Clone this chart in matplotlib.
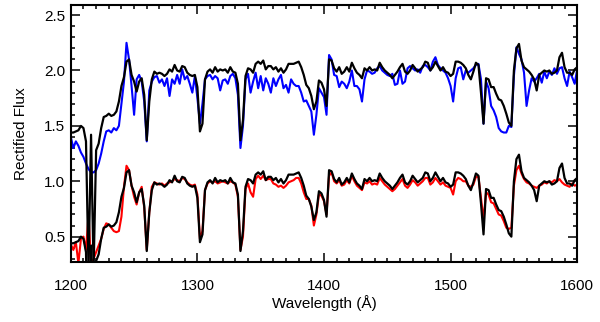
import numpy as np
import matplotlib
matplotlib.use("Agg")
import matplotlib.pyplot as plt
from matplotlib.ticker import MultipleLocator

plt.rcParams['font.family'] = ['Liberation Sans', 'DejaVu Sans']

# wavelength grid (Angstrom), 2 A sampling
wave = np.arange(1200, 1601, 2)

# observed spectrum (black), rectified
obs = [0.44, 0.44, 0.45, 0.46, 0.50, 0.48, 0.36, -0.80, 0.42, -0.80,
       0.28, 0.34, 0.48, 0.58, 0.59, 0.61, 0.59, 0.60, 0.63, 0.72,
       0.86, 0.94, 1.08, 1.10, 0.96, 0.90, 0.81, 0.90, 0.93, 0.78,
       0.37, 0.72, 0.92, 0.99, 0.97, 0.98, 0.97, 0.95, 0.97, 1.01,
       0.99, 1.05, 1.00, 0.99, 1.04, 1.03, 0.98, 0.96, 0.95, 0.96,
       0.85, 0.45, 0.52, 0.92, 0.99, 1.01, 0.98, 1.03, 0.99, 1.01,
       1.00, 1.01, 0.98, 1.03, 0.99, 0.98, 0.88, 0.37, 0.55, 0.95,
       1.02, 1.01, 0.98, 1.06, 1.08, 1.06, 1.09, 1.01, 1.04, 1.04,
       1.01, 1.03, 0.99, 1.02, 0.98, 1.01, 1.06, 1.06, 1.06, 1.07,
       1.08, 1.03, 0.96, 0.87, 0.84, 0.77, 0.65, 0.72, 0.91, 0.89,
       0.83, 0.68, 1.10, 1.09, 1.02, 0.99, 1.03, 0.97, 0.99, 1.03,
       0.99, 1.07, 1.02, 0.98, 0.96, 0.93, 1.02, 1.00, 1.03, 1.00,
       1.01, 1.00, 1.07, 1.03, 1.00, 0.98, 0.96, 0.93, 0.96, 0.99,
       1.03, 1.06, 0.99, 0.97, 1.00, 1.05, 1.02, 0.99, 1.01, 1.03,
       1.08, 1.07, 1.00, 1.03, 1.08, 1.04, 1.00, 1.03, 0.99, 0.98,
       0.95, 0.97, 1.08, 1.08, 1.07, 1.05, 1.02, 0.96, 0.92, 0.99,
       1.07, 1.05, 0.80, 0.52, 0.93, 0.92, 0.85, 0.85, 0.79, 0.74,
       0.73, 0.68, 0.61, 0.53, 0.50, 1.00, 1.20, 1.24, 1.09, 1.03,
       1.01, 0.99, 0.96, 0.92, 0.82, 0.96, 0.98, 1.00, 0.99, 1.00,
       0.97, 0.98, 1.00, 1.12, 1.16, 1.03, 0.98, 0.98, 0.96, 1.01,
       1.03]

# model 1 (red), lower pair
model_red = [0.43, 0.38, 0.45, 0.26, 0.48, 0.50, 0.38, 0.70, 0.26, 0.30,
             0.36, 0.42, 0.48, 0.57, 0.62, 0.61, 0.58, 0.55, 0.54, 0.55,
             0.68, 0.95, 1.14, 1.10, 0.96, 0.86, 0.79, 0.90, 0.95, 0.76,
             0.38, 0.72, 0.95, 0.99, 0.98, 0.97, 0.98, 0.96, 0.98, 0.99,
             1.00, 1.02, 1.01, 1.00, 1.03, 1.02, 0.99, 0.97, 0.96, 0.97,
             0.88, 0.48, 0.55, 0.92, 0.98, 1.00, 0.99, 1.00, 0.98, 0.99,
             1.00, 0.99, 0.98, 1.00, 0.99, 0.97, 0.86, 0.38, 0.50, 0.93,
             0.98, 0.90, 0.86, 1.02, 1.05, 1.02, 1.05, 1.01, 1.02, 1.02,
             0.98, 0.97, 0.95, 0.96, 0.94, 0.96, 0.99, 1.00, 1.01, 1.03,
             1.03, 0.98, 0.90, 0.84, 0.84, 0.78, 0.60, 0.70, 0.88, 0.87,
             0.82, 0.70, 1.05, 1.08, 1.00, 0.98, 1.01, 0.96, 0.97, 1.01,
             0.98, 1.05, 1.00, 0.96, 0.94, 0.92, 0.99, 0.98, 1.00, 0.97,
             0.98, 0.97, 1.03, 1.00, 0.97, 0.95, 0.93, 0.91, 0.93, 0.96,
             0.99, 1.02, 0.96, 0.94, 0.97, 1.01, 0.99, 0.96, 0.98, 1.00,
             1.03, 1.03, 0.97, 0.99, 1.03, 1.00, 0.97, 0.99, 0.96, 0.95,
             0.94, 0.88, 1.00, 1.03, 1.02, 1.00, 1.00, 0.96, 0.95, 0.97,
             1.04, 1.04, 0.85, 0.65, 0.90, 0.88, 0.81, 0.80, 0.75, 0.70,
             0.69, 0.64, 0.58, 0.57, 0.58, 0.96, 1.10, 1.14, 1.07, 1.02,
             0.99, 0.98, 0.96, 0.95, 0.94, 0.96, 0.97, 0.99, 0.98, 1.00,
             0.99, 1.01, 1.00, 1.02, 0.99, 0.97, 0.96, 0.95, 0.98, 0.96,
             0.97]

# model 2 (blue), upper pair
model_blue = [0.40, 0.30, 0.36, 0.32, 0.26, 0.22, 0.16, 0.11, 0.08, 0.08,
              0.10, 0.16, 0.25, 0.36, 0.45, 0.46, 0.44, 0.48, 0.46, 0.50,
              0.70, 0.90, 1.25, 1.10, 0.86, 0.60, 0.92, 0.96, 0.90, 0.72,
              0.36, 0.82, 0.90, 0.94, 0.95, 0.89, 0.92, 0.86, 0.93, 0.77,
              0.92, 0.88, 0.96, 0.88, 1.01, 0.92, 0.95, 0.88, 0.80, 0.95,
              0.75, 0.52, 0.70, 0.92, 0.95, 0.96, 0.92, 0.95, 0.93, 0.82,
              0.91, 0.92, 0.88, 0.95, 0.97, 0.93, 0.78, 0.30, 0.50, 0.92,
              0.97, 0.80, 0.90, 0.98, 0.84, 0.95, 0.82, 0.93, 0.88, 0.80,
              0.93, 0.86, 0.92, 0.96, 0.84, 0.87, 0.80, 0.92, 0.88, 0.86,
              0.86, 0.80, 0.72, 0.73, 0.68, 0.63, 0.42, 0.60, 0.84, 0.80,
              0.76, 0.60, 1.14, 1.10, 0.96, 0.95, 0.85, 0.90, 0.88, 0.84,
              0.90, 1.00, 0.86, 0.86, 0.83, 0.72, 0.92, 1.00, 0.99, 0.97,
              0.98, 1.02, 1.04, 1.00, 0.98, 0.96, 0.95, 0.97, 0.87, 0.88,
              1.00, 0.88, 0.90, 1.02, 1.04, 1.02, 1.00, 1.01, 0.98, 1.04,
              1.05, 1.03, 1.00, 1.08, 1.12, 1.05, 1.02, 1.00, 0.98, 0.93,
              0.86, 0.72, 0.93, 1.02, 1.03, 0.92, 1.00, 0.98, 1.00, 1.02,
              1.05, 1.06, 0.92, 0.52, 0.90, 0.84, 0.68, 0.64, 0.58, 0.48,
              0.45, 0.44, 0.44, 0.50, 0.49, 0.95, 1.21, 1.15, 1.10, 0.98,
              0.68, 0.82, 0.93, 0.90, 0.93, 0.97, 0.89, 0.99, 0.93, 0.99,
              0.96, 1.02, 0.97, 1.02, 1.03, 0.93, 0.86, 0.99, 0.94, 0.88,
              1.01]

offset = 1.0

fig = plt.figure(figsize=(6, 3.22), dpi=100)
ax = fig.add_axes([0.118, 0.186, 0.844, 0.798])

ax.plot(wave, model_red, color='red', lw=1.5)
ax.plot(wave, np.array(obs), color='black', lw=1.6)
ax.plot(wave, np.array(model_blue) + offset, color='blue', lw=1.5)
ax.plot(wave, np.array(obs) + offset, color='black', lw=1.6)

ax.set_xlim(1200, 1600)
ax.set_ylim(0.27, 2.59)
ax.xaxis.set_major_locator(MultipleLocator(100))
ax.xaxis.set_minor_locator(MultipleLocator(10))
ax.yaxis.set_major_locator(MultipleLocator(0.5))
ax.yaxis.set_minor_locator(MultipleLocator(0.1))
ax.tick_params(which='both', direction='in', top=True, right=True, width=1.1, labelsize=11)
ax.tick_params(which='major', length=6.5)
ax.tick_params(which='minor', length=3.2)
ax.tick_params(axis='x', which='major', pad=12)
ax.tick_params(axis='y', which='major', pad=4)
for s in ax.spines.values():
    s.set_linewidth(1.5)

ax.set_xlabel('Wavelength (Å)', fontsize=11)
ax.set_ylabel('Rectified Flux', fontsize=11)
ax.xaxis.set_label_coords(0.5, -0.13)
ax.yaxis.set_label_coords(-0.085, 0.5)

fig.savefig('out.png', dpi=100)
